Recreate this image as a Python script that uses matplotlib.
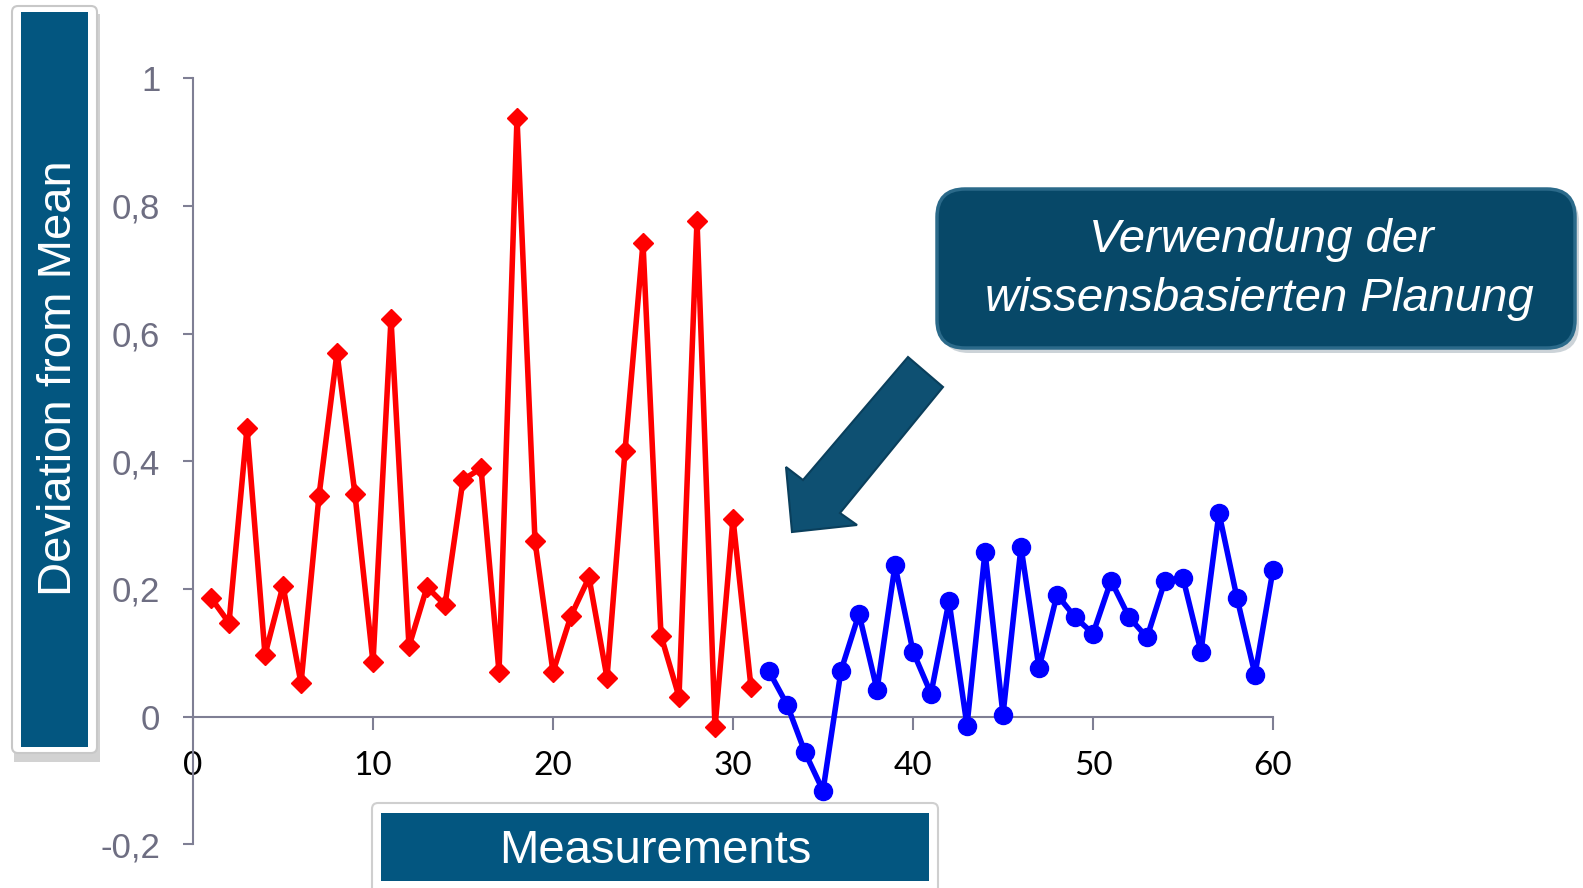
import matplotlib
matplotlib.use("Agg")
import matplotlib.pyplot as plt
from matplotlib.patches import Rectangle, FancyBboxPatch, Polygon
from matplotlib.transforms import IdentityTransform
import numpy as np

# deviation per measurement, before (red) and after (blue) the knowledge-based planning
x_before = list(range(1, 32))
dev_before = [0.186, 0.147, 0.452, 0.097, 0.205, 0.052, 0.346, 0.570, 0.348, 0.085,
              0.623, 0.110, 0.203, 0.175, 0.371, 0.389, 0.070, 0.938, 0.275, 0.070,
              0.158, 0.218, 0.061, 0.416, 0.742, 0.127, 0.031, 0.777, -0.017, 0.310,
              0.046]
x_after = list(range(32, 61))
dev_after = [0.071, 0.019, -0.056, -0.116, 0.072, 0.161, 0.042, 0.237, 0.102, 0.036,
             0.181, -0.014, 0.258, 0.003, 0.266, 0.076, 0.191, 0.156, 0.130, 0.213,
             0.156, 0.124, 0.213, 0.217, 0.102, 0.319, 0.186, 0.066, 0.230]

xticks = [0, 10, 20, 30, 40, 50, 60]
yticks = [-0.2, 0, 0.2, 0.4, 0.6, 0.8, 1.0]
ytick_labels = ["-0,2", "0", "0,2", "0,4", "0,6", "0,8", "1"]

W, H = 1583, 888
fig = plt.figure(figsize=(W / 100, H / 100), dpi=100)
px = IdentityTransform()

axis_col = "#7f7f94"
box_col = "#035680"

ax = fig.add_axes([193 / W, 1 - 844.3 / H, 1080 / W, 766 / H])
ax.plot(x_before, dev_before, color="#ff0000", lw=4.0, marker="D", ms=10,
        mec="#ff0000", clip_on=False, zorder=3)
ax.plot(x_after, dev_after, color="#0000ff", lw=4.0, marker="o", ms=13,
        mec="#0000ff", clip_on=False, zorder=3)
ax.set_xlim(0, 60)
ax.set_ylim(-0.2, 1.0)

for s in ["top", "right"]:
    ax.spines[s].set_visible(False)
ax.spines["bottom"].set_position(("data", 0))
for s in ["left", "bottom"]:
    ax.spines[s].set_color(axis_col)
    ax.spines[s].set_linewidth(1.5)

ax.set_xticks(xticks)
ax.set_xticklabels([str(t) for t in xticks], fontsize=24, family="Lato", color="black")
ax.set_yticks(yticks)
ax.set_yticklabels(ytick_labels, fontsize=25, family="Liberation Sans", color="#6e6e82")
ax.tick_params(axis="x", direction="out", length=9, width=1.5, color=axis_col, pad=16)
ax.tick_params(axis="y", direction="out", length=7.5, width=1.5, color=axis_col, pad=16)


def rect(x0, y0, x1, y1, **kw):
    # rectangle in pixel coordinates, y measured from the top
    return Rectangle((x0, H - y1), x1 - x0, y1 - y0, transform=px, **kw)


# y-axis title panel
fig.patches.append(rect(14, 14, 100, 762, facecolor="#b4b4b4", alpha=0.6, lw=0))
fig.patches.append(FancyBboxPatch((12, H - 753), 85, 747,
                                  boxstyle="round,pad=0,rounding_size=6",
                                  transform=px, facecolor="white",
                                  edgecolor="#c8c8c8", lw=1.5))
fig.patches.append(rect(21, 12, 88, 747, facecolor=box_col, lw=0))
fig.text(59, H - 378, "Deviation from Mean", transform=px, rotation=90,
         ha="center", va="center", fontsize=34, color="white",
         family="Liberation Sans")

# x-axis title panel
fig.patches.append(FancyBboxPatch((372, H - 895), 566, 92,
                                  boxstyle="round,pad=0,rounding_size=6",
                                  transform=px, facecolor="white",
                                  edgecolor="#cfcfcf", lw=1.5))
fig.patches.append(rect(381, 813, 929, 881, facecolor=box_col, lw=0))
fig.text(655, H - 851, "Measurements", transform=px, ha="center", va="center",
         fontsize=34, color="white", family="Liberation Sans")

# callout box
fig.patches.append(FancyBboxPatch((941, H - 353), 638, 159,
                                  boxstyle="round,pad=0,rounding_size=28",
                                  transform=px, facecolor="#9aa9b3",
                                  alpha=0.5, lw=0))
fig.patches.append(FancyBboxPatch((937, H - 348), 638, 159,
                                  boxstyle="round,pad=0,rounding_size=28",
                                  transform=px, facecolor="#074868",
                                  edgecolor="#2b6a8a", lw=2.5))
fig.text(1261, H - 240, "Verwendung der", transform=px, ha="center", va="center",
         fontsize=34, style="italic", color="white", family="Liberation Sans")
fig.text(1259, H - 299, "wissensbasierten Planung", transform=px, ha="center",
         va="center", fontsize=34, style="italic", color="white",
         family="Liberation Sans")

# arrow pointing down-left at the change-over
arrow_pts = [(908, 357), (943, 387), (840, 513), (857, 525), (792, 532),
             (786, 467), (803, 480)]
fig.patches.append(Polygon([(x, H - y) for x, y in arrow_pts], closed=True,
                           transform=px, facecolor="#0e5072",
                           edgecolor="#0a3f5c", lw=1.5))

fig.savefig("out.png", dpi=100)
